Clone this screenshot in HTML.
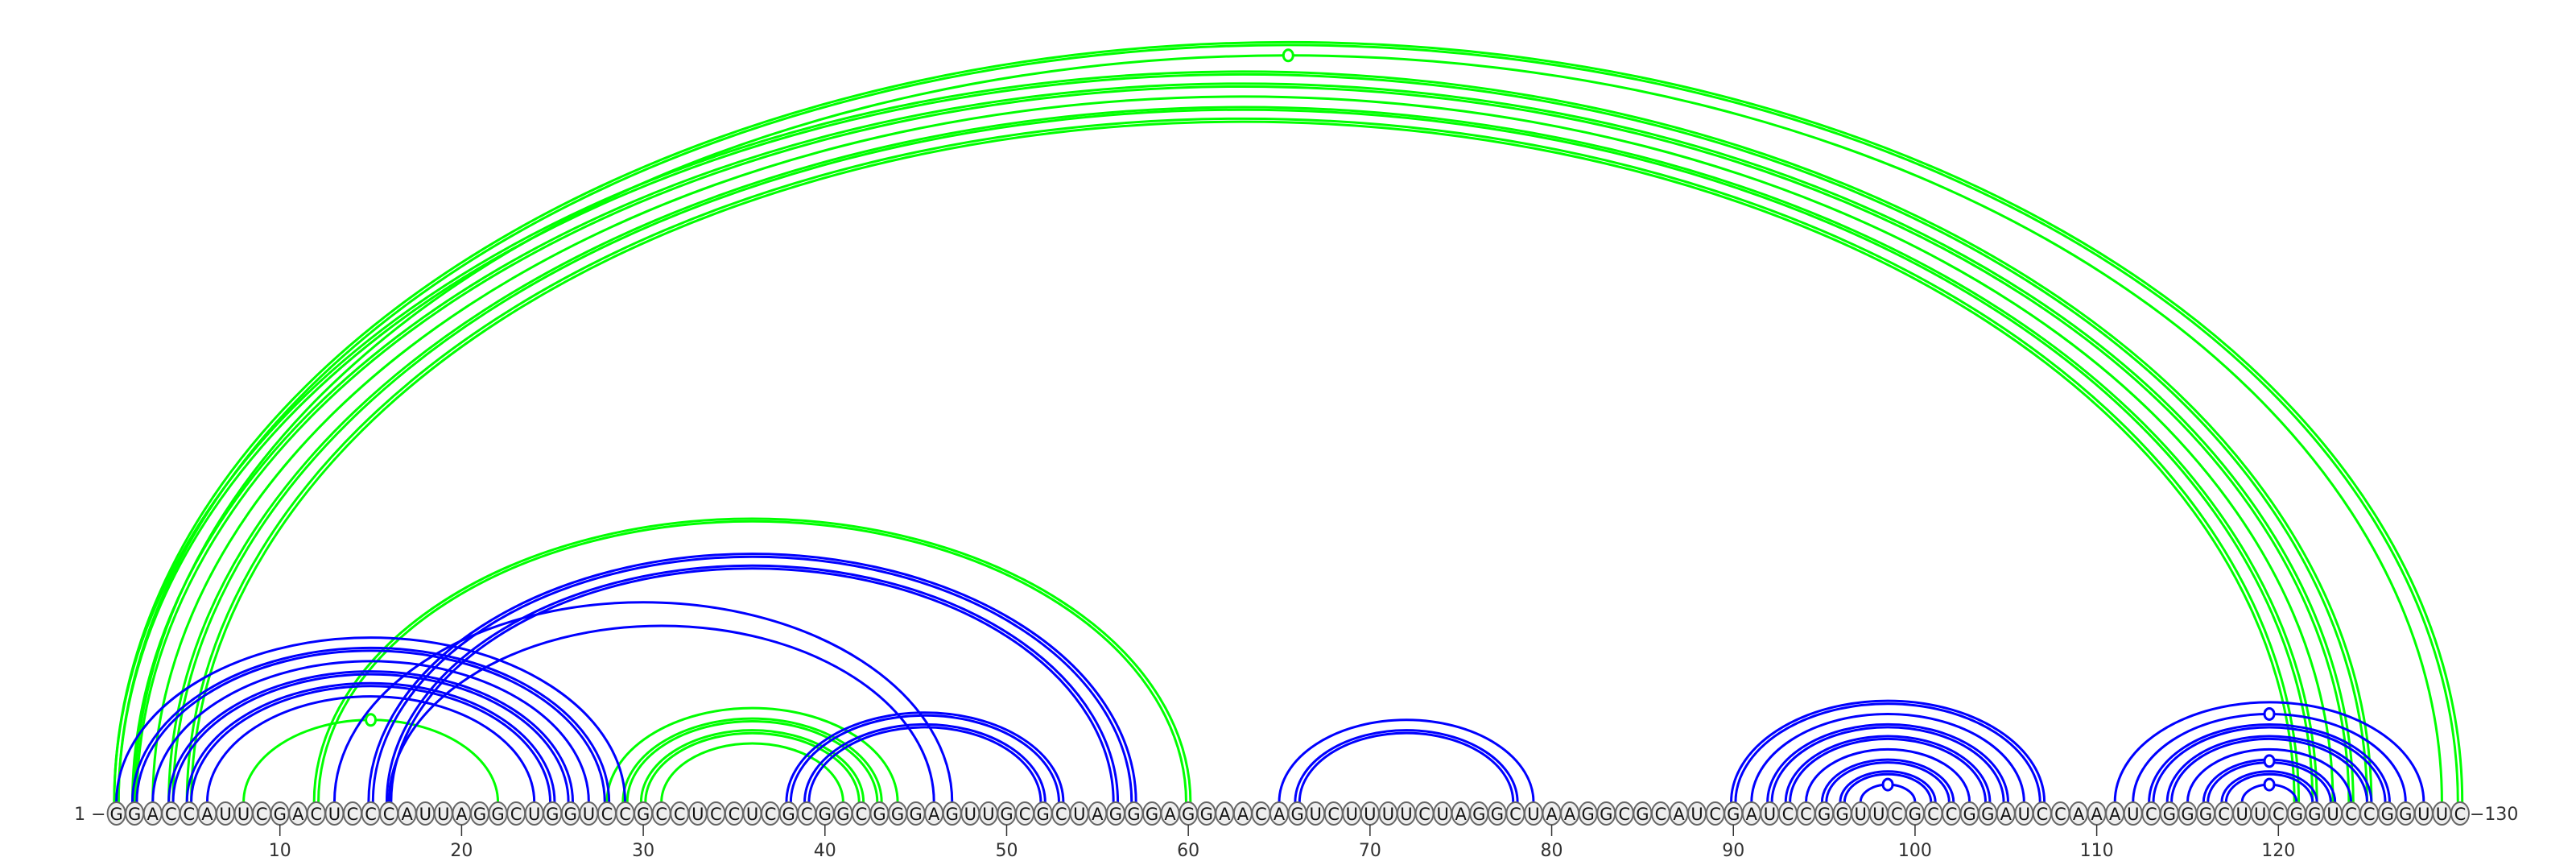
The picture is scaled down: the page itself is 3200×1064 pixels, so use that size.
<!DOCTYPE html>
<html><head><meta charset="utf-8">
<style>
html,body{margin:0;padding:0;background:#fff;width:3200px;height:1064px;overflow:hidden}
svg{display:block}
</style></head>
<body>
<svg id="chart" width="3200" height="1064" viewBox="0 0 3200 1064" xmlns="http://www.w3.org/2000/svg">
<g id="arcs"></g>
<g id="nts"></g>
<g id="axis"></g>
</svg>
<script>
const sequence = "GGACCAUUCGACUCCCAUUAGGCUGGUCCGCCUCCUCGCGGCGGGAGUUGCGCUAGGGAGGAACAGUCUUUUCUAGGCUAAGGCGCAUCGAUCCGGUUCGCCGGAUCCAAAUCGGGCUUCGGUCCGGUUC";
const bluePairs = [[1,29],[2,28],[3,27],[4,26],[5,25],[6,24],[13,47],[15,57],[16,56],[16,46],[38,53],[39,52],[65,79],[66,78],
  [90,107],[91,106],[92,105],[93,104],[94,103],[95,102],[96,101],[97,100],
  [111,128],[112,127],[113,126],[114,125],[115,124],[116,123],[117,122],[118,121]];
const blueDouble = [0,1,0,1,1,0,0,1,1,0,1,1,0,1, 1,0,1,1,0,1,1,0, 0,0,1,1,0,1,1,0];
const greenPairs = [[1,130],[2,129],[1,125],[2,124],[3,123],[4,122],[5,121],[8,22],[12,60],[28,44],[29,43],[30,42],[31,41]];
const greenDouble = [1,0,1,1,0,1,1,0,1,0,1,1,0];
const markerArcs = [["green",2,129],["green",8,22],["blue",97,100],["blue",118,121],["blue",116,123],["blue",112,127]];
const tickValues = [10,20,30,40,50,60,70,80,90,100,110,120];

const NS = "http://www.w3.org/2000/svg";
const X0 = 144.6, DX = (3056 - 144.6) / 129, Y0 = 996, RATIO = 0.647;
function xPos(i){ return X0 + (i - 1) * DX; }
function arcPath(a, b, off){
  const x1 = xPos(a) - off, x2 = xPos(b) + off;
  const rx = (x2 - x1) / 2, ry = rx * RATIO;
  return `M${x1},${Y0} A${rx},${ry} 0 0 1 ${x2},${Y0}`;
}
const arcG = document.getElementById('arcs');
function drawArcs(pairs, dbl, color, name){
  pairs.forEach((p, k) => {
    const offs = dbl[k] ? [-2.7, 2.7] : [0];
    offs.forEach(o => {
      const el = document.createElementNS(NS, 'path');
      el.setAttribute('d', arcPath(p[0], p[1], o));
      el.setAttribute('fill', 'none');
      el.setAttribute('stroke', color);
      el.setAttribute('stroke-width', '3');
      
      
      arcG.appendChild(el);
    });
  });
}
drawArcs(greenPairs, greenDouble, '#00ff00', 'green-arc');
drawArcs(bluePairs, blueDouble, '#0000ff', 'blue-arc');
markerArcs.forEach(m => {
  const cx = (xPos(m[1]) + xPos(m[2])) / 2;
  const cy = Y0 - (xPos(m[2]) - xPos(m[1])) / 2 * RATIO;
  const el = document.createElementNS(NS, 'ellipse');
  el.setAttribute('cx', cx); el.setAttribute('cy', cy);
  el.setAttribute('rx', 6); el.setAttribute('ry', 7);
  el.setAttribute('fill', '#fff');
  el.setAttribute('stroke', m[0] === 'green' ? '#00ff00' : '#0000ff');
  el.setAttribute('stroke-width', '3');
  
  
  arcG.appendChild(el);
});
const ntG = document.getElementById('nts');
for (let i = 1; i <= sequence.length; i++){
  const x = xPos(i);
  const c = document.createElementNS(NS, 'ellipse');
  c.setAttribute('cx', x); c.setAttribute('cy', 1010);
  c.setAttribute('rx', 11); c.setAttribute('ry', 14);
  c.setAttribute('fill', '#eeeeee'); c.setAttribute('stroke', '#666');
  c.setAttribute('stroke-width', '2');
  
  
  ntG.appendChild(c);
  const t = document.createElementNS(NS, 'text');
  t.setAttribute('x', x); t.setAttribute('y', 1018);
  t.setAttribute('text-anchor', 'middle');
  t.setAttribute('font-family', 'DejaVu Sans, sans-serif');
  t.setAttribute('font-size', '21');
  t.setAttribute('fill', '#111');
  t.textContent = sequence[i - 1];
  
  
  ntG.appendChild(t);
}
const axG = document.getElementById('axis');
function addText(x, y, s, anchor, name){
  const t = document.createElementNS(NS, 'text');
  t.setAttribute('x', x); t.setAttribute('y', y);
  t.setAttribute('text-anchor', anchor);
  t.setAttribute('font-family', 'DejaVu Sans, sans-serif');
  t.setAttribute('font-size', '22');
  t.setAttribute('fill', '#333');
  t.textContent = s;
  
  
  axG.appendChild(t);
}
tickValues.forEach(v => {
  const l = document.createElementNS(NS, 'line');
  l.setAttribute('x1', xPos(v)); l.setAttribute('x2', xPos(v));
  l.setAttribute('y1', 1024); l.setAttribute('y2', 1038);
  l.setAttribute('stroke', '#333'); l.setAttribute('stroke-width', '1.5');
  
  
  axG.appendChild(l);
  addText(xPos(v), 1063, String(v), 'middle', 'tick-label');
});
addText(xPos(1) - 13, 1018, '1 \u2212', 'end', 'start-label');
addText(xPos(sequence.length) + 12, 1018, '\u2212130', 'start', 'end-label');
</script>
</body></html>
